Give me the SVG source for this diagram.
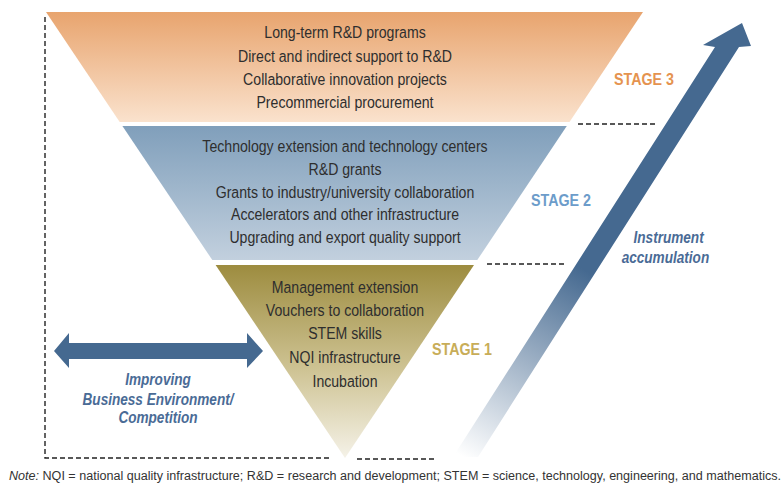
<svg xmlns="http://www.w3.org/2000/svg" width="784" height="485" viewBox="0 0 784 485">
<defs>
<linearGradient id="g3" x1="0" y1="0" x2="0" y2="1">
<stop offset="0" stop-color="#E8A46E"/><stop offset="1" stop-color="#FAE2CD"/>
</linearGradient>
<linearGradient id="g2" x1="0" y1="0" x2="0" y2="1">
<stop offset="0" stop-color="#809FBB"/><stop offset="1" stop-color="#C2D0DE"/>
</linearGradient>
<linearGradient id="g1" x1="0" y1="0" x2="0" y2="1">
<stop offset="0" stop-color="#9D8C3F"/><stop offset="0.55" stop-color="#CFC495"/><stop offset="1" stop-color="#F5F2E8"/>
</linearGradient>
<linearGradient id="ga" gradientUnits="userSpaceOnUse" x1="465" y1="458" x2="700" y2="47">
<stop offset="0" stop-color="#FFFFFF"/><stop offset="0.47" stop-color="#456990"/><stop offset="1" stop-color="#456990"/>
</linearGradient>
<style>
.body{font-family:"Liberation Sans",Arial,sans-serif;font-size:17px;fill:#2E2E2E;text-anchor:middle}
.stage{font-family:"Liberation Sans",Arial,sans-serif;font-size:17px;font-weight:bold}
.ital{font-family:"Liberation Sans",Arial,sans-serif;font-size:17px;font-weight:bold;font-style:italic;fill:#4A6B96;text-anchor:middle}
.dash{fill:none;stroke:#222;stroke-width:1.4;stroke-dasharray:5 3}
.note{font-family:"Liberation Sans",Arial,sans-serif;font-size:12.5px;fill:#333}
</style>
</defs>
<rect width="784" height="485" fill="#FFFFFF"/>

<g id="guides">
<polyline class="dash" points="45,17 45,458 330,458"/>
<line class="dash" x1="357" y1="459" x2="436" y2="459"/>
<line class="dash" x1="578" y1="124" x2="658" y2="124"/>
<line class="dash" x1="487" y1="264" x2="566" y2="264"/>
</g>

<g id="stage3">
<polygon points="46,12 643,12 569.5,122 119.7,122" fill="url(#g3)"/>
<g transform="translate(345,0) scale(0.83,1)">
<text class="body" x="0" y="38">Long-term R&amp;D programs</text>
<text class="body" x="0" y="62">Direct and indirect support to R&amp;D</text>
<text class="body" x="0" y="85">Collaborative innovation projects</text>
<text class="body" x="0" y="108">Precommercial procurement</text>
</g>
<text class="stage" transform="translate(614,85) scale(0.84,1)" x="0" y="0" fill="#E5934F">STAGE 3</text>
</g>

<g id="stage2">
<polygon points="122.4,126 566.8,126 477.3,260 212.3,260" fill="url(#g2)"/>
<g transform="translate(345,0) scale(0.83,1)">
<text class="body" x="0" y="152">Technology extension and technology centers</text>
<text class="body" x="0" y="175">R&amp;D grants</text>
<text class="body" x="0" y="198">Grants to industry/university collaboration</text>
<text class="body" x="0" y="220">Accelerators and other infrastructure</text>
<text class="body" x="0" y="243">Upgrading and export quality support</text>
</g>
<text class="stage" transform="translate(531,206) scale(0.84,1)" x="0" y="0" fill="#6C9CCA">STAGE 2</text>
</g>

<g id="stage1">
<polygon points="215.6,265 474,265 345,458" fill="url(#g1)"/>
<g transform="translate(345,0) scale(0.83,1)">
<text class="body" x="0" y="293">Management extension</text>
<text class="body" x="0" y="316">Vouchers to collaboration</text>
<text class="body" x="0" y="339">STEM skills</text>
<text class="body" x="0" y="363">NQI infrastructure</text>
<text class="body" x="0" y="387">Incubation</text>
</g>
<text class="stage" transform="translate(432,355) scale(0.84,1)" x="0" y="0" fill="#C8AD58">STAGE 1</text>
</g>

<g id="arrow-environment">
<polygon points="54,351 69,333 69,343 247,343 247,333 263,351 247,368 247,359 69,359 69,368" fill="#456990"/>
<g transform="translate(158,0) scale(0.8,1)">
<text class="ital" x="0" y="385">Improving</text>
<text class="ital" x="0" y="405">Business Environment/</text>
<text class="ital" x="0" y="423">Competition</text>
</g>
</g>

<g id="arrow-accumulation">
<polygon points="453,457 715,47 703,45 742,23 751,46 739,47 478,457" fill="url(#ga)"/>
<g transform="translate(667,0) scale(0.8,1)">
<text class="ital" x="2" y="243">Instrument</text>
<text class="ital" x="-2" y="263">accumulation</text>
</g>
</g>

<text class="note" x="9" y="480" textLength="772" lengthAdjust="spacingAndGlyphs"><tspan font-style="italic">Note:</tspan> NQI = national quality infrastructure; R&amp;D = research and development; STEM = science, technology, engineering, and mathematics.</text>
</svg>
